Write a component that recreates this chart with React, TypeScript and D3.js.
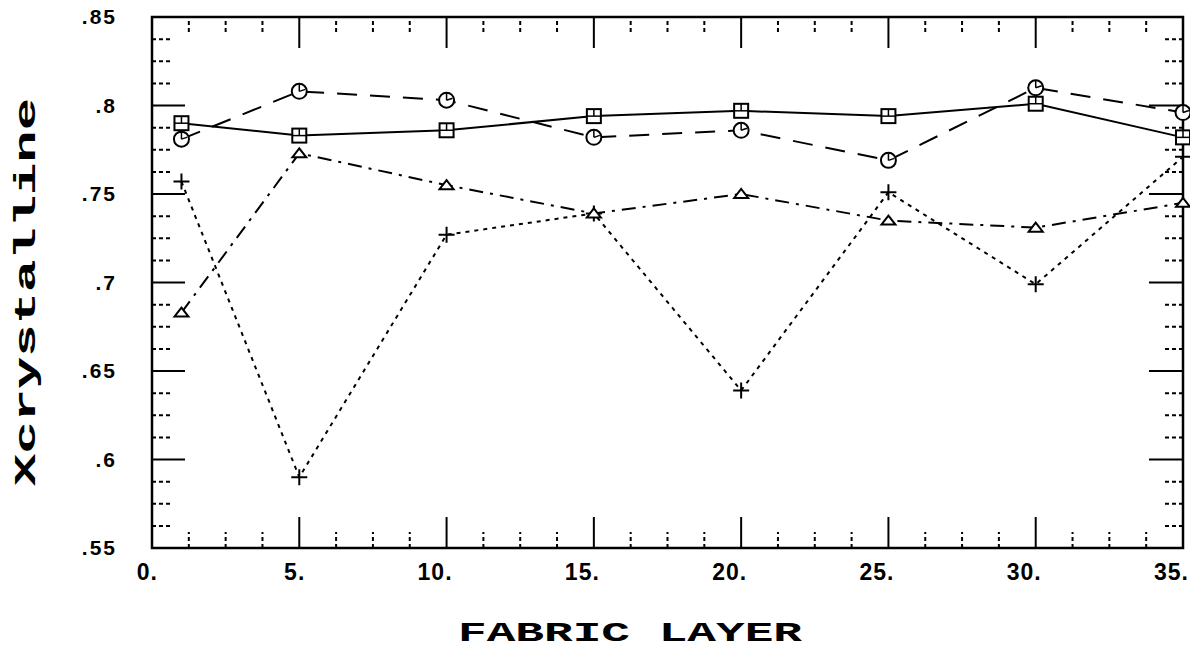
import React from 'react'
import * as d3 from 'd3'

const layers = [1, 5, 10, 15, 20, 25, 30, 35]
const squareVals = [0.790, 0.783, 0.786, 0.794, 0.797, 0.794, 0.801, 0.782]
const circleVals = [0.781, 0.808, 0.803, 0.782, 0.786, 0.769, 0.810, 0.796]
const triangleVals = [0.683, 0.773, 0.755, 0.739, 0.750, 0.735, 0.731, 0.745]
const plusVals = [0.757, 0.590, 0.727, 0.739, 0.639, 0.751, 0.699, 0.771]

const xTickVals = [0, 5, 10, 15, 20, 25, 30, 35]
const xTickLabels = ['0.', '5.', '10.', '15.', '20.', '25.', '30.', '35.']
const yTickVals = [0.55, 0.6, 0.65, 0.7, 0.75, 0.8, 0.85]
const yTickLabels = ['.55', '.6', '.65', '.7', '.75', '.8', '.85']

const W = 1190
const H = 650
const left = 152
const right = 1183
const top = 17
const bottom = 548

const x = d3.scaleLinear().domain([0, 35]).range([left, right])
const y = d3.scaleLinear().domain([0.55, 0.85]).range([bottom, top])

const xMinor = d3.range(0, 35.01, 1.25).filter(v => Math.abs(v / 5 - Math.round(v / 5)) > 1e-6)
const yMinor = d3.range(0.55, 0.8501, 0.0125).filter(v => Math.abs(v / 0.05 - Math.round(v / 0.05)) > 1e-6)
const xMajorInner = xTickVals.slice(1, -1)
const yMajorInner = yTickVals.slice(1, -1)

type Series = { vals: number[]; dash: string; marker: string }

const seriesList: Series[] = [
  { vals: plusVals, dash: '4,5', marker: 'plus' },
  { vals: triangleVals, dash: '14,7,3,7', marker: 'triangle' },
  { vals: circleVals, dash: '20,13', marker: 'circle' },
  { vals: squareVals, dash: '', marker: 'square' },
]

const line = d3.line<[number, number]>().x(d => x(d[0])).y(d => y(d[1]))

const Marker = ({ kind, cx, cy }: { kind: string; cx: number; cy: number }) => {
  const st = { fill: '#fff', stroke: '#000', strokeWidth: 2 }
  if (kind === 'square') {
    return (
      <g>
        <rect x={cx - 7} y={cy - 7} width={14} height={14} {...st} />
        <line x1={cx} y1={cy - 7} x2={cx} y2={cy} stroke="#000" strokeWidth={1.5} />
        <line x1={cx - 7} y1={cy} x2={cx + 7} y2={cy} stroke="#000" strokeWidth={1.5} />
      </g>
    )
  }
  if (kind === 'circle') {
    return (
      <g>
        <circle cx={cx} cy={cy} r={7.5} {...st} />
        <line x1={cx} y1={cy - 7} x2={cx} y2={cy} stroke="#000" strokeWidth={1.5} />
        <line x1={cx} y1={cy} x2={cx + 6} y2={cy - 2} stroke="#000" strokeWidth={1.5} />
      </g>
    )
  }
  if (kind === 'triangle') {
    return <path d={`M${cx - 7},${cy + 4}L${cx},${cy - 5}L${cx + 7},${cy + 4}Z`} {...st} />
  }
  return (
    <path d={`M${cx - 8},${cy}H${cx + 8}M${cx},${cy - 8}V${cy + 8}`} stroke="#000" strokeWidth={2} fill="none" />
  )
}

export default function App() {
  const tickDash = '4,3'
  return (
    <div style={{ position: 'absolute', left: 0, top: 0 }}>
      <svg width={W} height={H} style={{ display: 'block', background: '#fff' }}>
        {/* frame */}
        <rect x={left} y={top} width={right - left} height={bottom - top} fill="none" stroke="#000" strokeWidth={2.5} />

        {/* minor ticks */}
        {xMinor.map(v => (
          <g key={'xm' + v}>
            <line x1={x(v)} x2={x(v)} y1={bottom} y2={bottom - 16} stroke="#000" strokeWidth={2} strokeDasharray={tickDash} />
            <line x1={x(v)} x2={x(v)} y1={top + 4} y2={top + 17} stroke="#000" strokeWidth={2} strokeDasharray={tickDash} />
          </g>
        ))}
        {yMinor.map(v => (
          <g key={'ym' + v}>
            <line x1={left} x2={left + 18} y1={y(v)} y2={y(v)} stroke="#000" strokeWidth={2} strokeDasharray={tickDash} />
            <line x1={right} x2={right - 18} y1={y(v)} y2={y(v)} stroke="#000" strokeWidth={2} strokeDasharray={tickDash} />
          </g>
        ))}

        {/* major ticks */}
        {xMajorInner.map(v => (
          <g key={'xM' + v}>
            <line x1={x(v)} x2={x(v)} y1={bottom} y2={bottom - 31} stroke="#000" strokeWidth={2} />
            <line x1={x(v)} x2={x(v)} y1={top} y2={top + 31} stroke="#000" strokeWidth={2} />
          </g>
        ))}
        {yMajorInner.map(v => (
          <g key={'yM' + v}>
            <line x1={left} x2={left + 33} y1={y(v)} y2={y(v)} stroke="#000" strokeWidth={2} />
            <line x1={right} x2={right - 34} y1={y(v)} y2={y(v)} stroke="#000" strokeWidth={2} />
          </g>
        ))}

        {/* tick labels */}
        {xTickVals.map((v, i) => (
          <text key={'xl' + v} x={x(v) + 6} y={580} textAnchor="end"
            style={{ fontFamily: 'Liberation Sans, Arial, sans-serif', fontWeight: 700, fontSize: 23, letterSpacing: 1 }}>
            {xTickLabels[i]}
          </text>
        ))}
        {yTickVals.map((v, i) => (
          <text key={'yl' + v} x={117} y={y(v)} dy="0.35em" textAnchor="end"
            style={{ fontFamily: 'Liberation Sans, Arial, sans-serif', fontWeight: 700, fontSize: 21, letterSpacing: 2 }}>
            {yTickLabels[i]}
          </text>
        ))}

        {/* axis titles */}
        <text x={630} y={641} textAnchor="middle" textLength={344} lengthAdjust="spacingAndGlyphs"
          style={{ fontFamily: 'Liberation Mono, DejaVu Sans Mono, monospace', fontWeight: 700, fontSize: 27 }}>
          FABRIC  LAYER
        </text>
        <text transform="translate(35,292) rotate(-90)" textAnchor="middle" textLength={388} lengthAdjust="spacingAndGlyphs"
          style={{ fontFamily: 'Liberation Mono, DejaVu Sans Mono, monospace', fontWeight: 700, fontSize: 29 }}>
          Xcrystalline
        </text>

        {/* series lines */}
        {seriesList.map((s, si) => (
          <path key={'ln' + si} d={line(layers.map((l, i) => [l, s.vals[i]] as [number, number])) || ''}
            fill="none" stroke="#000" strokeWidth={2} strokeDasharray={s.dash || undefined} />
        ))}
        {/* markers */}
        {seriesList.map((s, si) => (
          <g key={'mk' + si}>
            {layers.map((l, i) => (
              <Marker key={i} kind={s.marker} cx={x(l)} cy={y(s.vals[i])} />
            ))}
          </g>
        ))}
      </svg>
    </div>
  )
}
